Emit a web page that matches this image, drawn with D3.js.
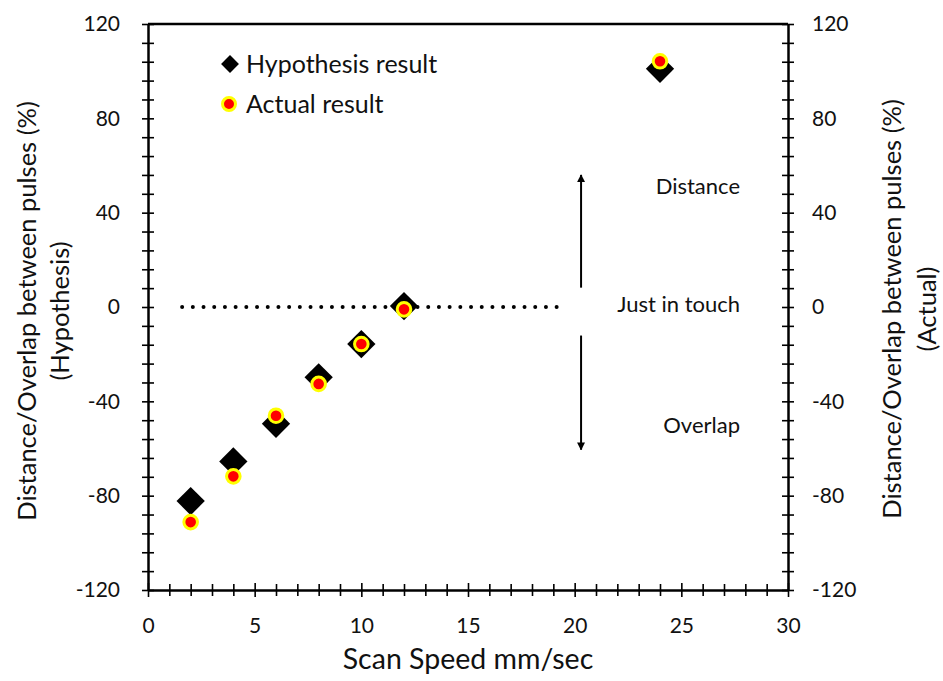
<!DOCTYPE html>
<html>
<head>
<meta charset="utf-8">
<script src="https://cdn.jsdelivr.net/npm/d3@7"></script>
<style>
body { margin: 0; background: #fff; }
text { font-family: Lato, "Open Sans", sans-serif; fill: #111; }
</style>
</head>
<body>
<div id="main"></div>
<script>
// scan speed (mm/sec)
let scan_speed = [2, 4, 6, 8, 10, 12, 24];
// distance / overlap between pulses (%)
let hypothesis_vals = [-82.3, -65.5, -49.5, -29.8, -15.7, 0.4, 101];
let actual_vals = [-91.2, -71.8, -46.1, -32.6, -15.7, -1.0, 104.2];
let x_ticks = [0, 5, 10, 15, 20, 25, 30];
let y_ticks = [-120, -80, -40, 0, 40, 80, 120];
let legend_labels = ["Hypothesis result", "Actual result"];
let note_labels = ["Distance", "Just in touch", "Overlap"];
let note_vals = [51, 1, -50];
let touch_line = [1.6, 19.2];
let arrow_up = [8.2, 56];
let arrow_down = [-12.1, -60.5];
let arrow_x = 20.3;

const W = 943, H = 681;
const m_left = 148, m_right = 788, m_top = 24, m_bottom = 590;

let svg = d3.select("#main").append("svg").attr("width", W).attr("height", H);

let x = d3.scaleLinear().domain([0, 30]).range([m_left, m_right]);
let y = d3.scaleLinear().domain([-120, 120]).range([m_bottom, m_top]);

let minor_y = d3.range(-120, 121, 8);
let minor_x = d3.range(0, 31, 1);

// top border
svg.append("line").attr("x1", m_left).attr("x2", m_right).attr("y1", m_top).attr("y2", m_top)
	.attr("stroke", "#000").attr("stroke-width", 2.5);

function style_axis(g, cross) {
	g.select(".domain").attr("stroke", "#000").attr("stroke-width", 2.5);
	g.selectAll(".tick line").attr("stroke", "#000").attr("stroke-width", 1.6);
	g.selectAll(".tick text").style("font-size", "21px").attr("fill", "#111");
	cross(g);
}

// left axis
let gl = svg.append("g").attr("transform", "translate(" + m_left + ",0)")
	.call(d3.axisLeft(y).tickValues(minor_y).tickSizeInner(6).tickSizeOuter(0).tickPadding(22)
		.tickFormat(function (d) { return y_ticks.indexOf(d) > -1 ? d : ""; }));
style_axis(gl, function (g) { g.selectAll(".tick line").attr("x1", 6); });

// right axis
let gr = svg.append("g").attr("transform", "translate(" + m_right + ",0)")
	.call(d3.axisRight(y).tickValues(minor_y).tickSizeInner(6).tickSizeOuter(0).tickPadding(18)
		.tickFormat(function (d) { return y_ticks.indexOf(d) > -1 ? d : ""; }));
style_axis(gr, function (g) { g.selectAll(".tick line").attr("x1", -6); });

// bottom axis
let gb = svg.append("g").attr("transform", "translate(0," + m_bottom + ")")
	.call(d3.axisBottom(x).tickValues(minor_x).tickSizeInner(6).tickSizeOuter(0).tickPadding(22)
		.tickFormat(function (d) { return x_ticks.indexOf(d) > -1 ? d : ""; }));
style_axis(gb, function (g) {
	g.selectAll(".tick line")
		.attr("y1", function (d) { return x_ticks.indexOf(d) > -1 ? -7 : -6; })
		.attr("y2", function (d) { return x_ticks.indexOf(d) > -1 ? 7 : 6; });
});

// axis titles
svg.append("text").attr("x", 468).attr("y", 669)
	.attr("text-anchor", "middle").style("font-size", "28.5px").text("Scan Speed mm/sec");

let yl = svg.append("text").attr("transform", "translate(0,311) rotate(-90)")
	.attr("text-anchor", "middle").style("font-size", "25.5px");
yl.append("tspan").attr("x", 0).attr("y", 36).text("Distance/Overlap between pulses (%)");
yl.append("tspan").attr("x", 0).attr("y", 69).text("(Hypothesis)");

let yr = svg.append("text").attr("transform", "translate(0,309) rotate(-90)")
	.attr("text-anchor", "middle").style("font-size", "25.5px");
yr.append("tspan").attr("x", 0).attr("y", 901).text("Distance/Overlap between pulses (%)");
yr.append("tspan").attr("x", 0).attr("y", 936).text("(Actual)");

// dotted "just in touch" line
svg.append("line")
	.attr("x1", x(touch_line[0])).attr("x2", x(touch_line[1]))
	.attr("y1", y(0)).attr("y2", y(0))
	.attr("stroke", "#000").attr("stroke-width", 4)
	.attr("stroke-linecap", "round").attr("stroke-dasharray", "0 10.7");

// arrows
let defs = svg.append("defs");
defs.append("marker").attr("id", "arrowhead").attr("viewBox", "0 0 10 10")
	.attr("refX", 9).attr("refY", 5).attr("markerWidth", 8).attr("markerHeight", 8)
	.attr("markerUnits", "userSpaceOnUse").attr("orient", "auto")
	.append("path").attr("d", "M0,0 L10,5 L0,10 z").attr("fill", "#000");

[arrow_up, arrow_down].forEach(function (a) {
	svg.append("line")
		.attr("x1", x(arrow_x)).attr("x2", x(arrow_x))
		.attr("y1", y(a[0])).attr("y2", y(a[1]))
		.attr("stroke", "#000").attr("stroke-width", 2)
		.attr("marker-end", "url(#arrowhead)");
});

// annotation text
svg.selectAll(".note").data(note_labels).enter().append("text")
	.attr("class", "note")
	.attr("x", 740)
	.attr("y", function (d, i) { return y(note_vals[i]); })
	.attr("dy", "0.35em")
	.attr("text-anchor", "end")
	.style("font-size", "22px")
	.text(function (d) { return d; });

// markers
let diamond = d3.symbol().type(d3.symbolSquare).size(400);
svg.selectAll(".hyp").data(scan_speed).enter().append("path")
	.attr("class", "hyp")
	.attr("d", diamond)
	.attr("transform", function (d, i) {
		return "translate(" + x(d) + "," + y(hypothesis_vals[i]) + ") rotate(45)";
	})
	.attr("fill", "#000");

svg.selectAll(".act").data(scan_speed).enter().append("circle")
	.attr("class", "act")
	.attr("cx", function (d) { return x(d); })
	.attr("cy", function (d, i) { return y(actual_vals[i]); })
	.attr("r", 6.8)
	.attr("fill", "#ff0000").attr("stroke", "#ffff00").attr("stroke-width", 3);

// legend
let legend = svg.append("g");
legend.append("path").attr("d", d3.symbol().type(d3.symbolSquare).size(160))
	.attr("transform", "translate(230,64) rotate(45)").attr("fill", "#000");
legend.append("circle").attr("cx", 229).attr("cy", 104).attr("r", 6.5)
	.attr("fill", "#ff0000").attr("stroke", "#ffff00").attr("stroke-width", 3);
legend.selectAll(".leg").data(legend_labels).enter().append("text")
	.attr("class", "leg")
	.attr("x", 246)
	.attr("y", function (d, i) { return 64 + i * 40; })
	.attr("dy", "0.35em")
	.style("font-size", "25px")
	.text(function (d) { return d; });
</script>
</body>
</html>
